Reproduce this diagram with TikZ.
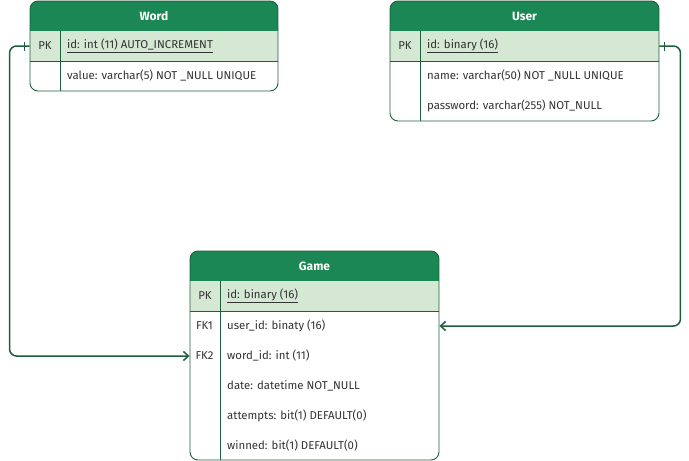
\documentclass[tikz,border=0pt]{standalone}
\usepackage{fontspec}
\setmainfont{Fira Sans}
\usetikzlibrary{arrows.meta,calc}
\definecolor{hdr}{HTML}{1A8754}
\definecolor{pkfill}{HTML}{D5E8D4}
\definecolor{edge}{HTML}{1E5E3C}
\definecolor{txt}{HTML}{333333}
\begin{document}
\begin{tikzpicture}[x=1pt,y=-1pt,
  tbl/.style={draw=edge, line width=0.9pt, rounded corners=8pt, inner sep=0pt},
  sep/.style={draw=edge, line width=0.9pt},
  hdrtext/.style={text=white, font=\bfseries\fontsize{12}{14}\selectfont},
  fld/.style={anchor=west, text=txt, inner sep=0pt, font=\fontsize{11.4}{13}\selectfont},
  keyt/.style={anchor=center, text=txt, inner sep=0pt, font=\fontsize{11.4}{13}\selectfont},
  conn/.style={draw=edge, line width=1.5pt, rounded corners=7pt},
  tick/.style={draw=edge, line width=1.5pt}]
\useasboundingbox (0,0) rectangle (689,461);

% ---------- Word ----------
\begin{scope}
\clip[rounded corners=8pt] (30,1) rectangle (278,91);
\fill[hdr] (30,1) rectangle (278,31);
\fill[pkfill] (30,31) rectangle (278,61);
\end{scope}
\draw[sep] (30,61) -- (278,61) (60,31) -- (60,91);
\node[tbl, minimum width=248pt, minimum height=90pt] (word) at (154,46) {};
\node[hdrtext] (wordt) at (154,16) {Word};
\node[keyt] (wpkk) at (45,46) {PK};
\node[fld] (wpk) at (67,46) {\underline{id: int (11) AUTO\_INCREMENT}};
\node[fld] (wval) at (67,76) {value: varchar(5) NOT \_NULL UNIQUE};

% ---------- User ----------
\begin{scope}
\clip[rounded corners=8pt] (390,1) rectangle (659,121);
\fill[hdr] (390,1) rectangle (659,31);
\fill[pkfill] (390,31) rectangle (659,61);
\end{scope}
\draw[sep] (390,61) -- (659,61) (420,31) -- (420,121);
\node[tbl, minimum width=269pt, minimum height=120pt] (user) at (524.5,61) {};
\node[hdrtext] (usert) at (524.5,16) {User};
\node[keyt] (upkk) at (405,46) {PK};
\node[fld] (upk) at (427,46) {\underline{id: binary (16)}};
\node[fld] (uname) at (427,76) {name: varchar(50) NOT \_NULL UNIQUE};
\node[fld] (upass) at (427,106) {password: varchar(255) NOT\_NULL};

% ---------- Game ----------
\begin{scope}
\clip[rounded corners=8pt] (190,251) rectangle (439,460);
\fill[hdr] (190,251) rectangle (439,281);
\fill[pkfill] (190,281) rectangle (439,311);
\end{scope}
\draw[sep] (190,311) -- (439,311) (220,281) -- (220,460);
\node[tbl, minimum width=249pt, minimum height=209pt] (game) at (314.5,355.5) {};
\node[hdrtext] (gamet) at (314.5,266) {Game};
\node[keyt] (gpkk) at (205,296) {PK};
\node[fld] (gpk) at (227,296) {\underline{id: binary (16)}};
\node[keyt] (gfk1k) at (204.5,326) {FK1};
\node[fld] (gfk1) at (227,326) {user\_id: binaty (16)};
\node[keyt] (gfk2k) at (204.5,356) {FK2};
\node[fld] (gfk2) at (227,356) {word\_id: int (11)};
\node[fld] (gdate) at (227,386) {date: datetime NOT\_NULL};
\node[fld] (gatt) at (227,416) {attempts: bit(1) DEFAULT(0)};
\node[fld] (gwin) at (227,446) {winned: bit(1) DEFAULT(0)};

% ---------- connectors ----------
\coordinate (wstart) at (word.west |- wpk);
\coordinate (gend) at (game.west |- gfk2);
\draw[conn, -{Straight Barb[length=5pt,width=9pt]}]
  (wstart) -- ++(-20,0) |- (gend);
\draw[tick] ($(wstart)+(-5,-4.5)$) -- ($(wstart)+(-5,4.5)$);

\coordinate (ustart) at (user.east |- upk);
\coordinate (uend) at (game.east |- gfk1);
\draw[conn, -{Straight Barb[length=5pt,width=9pt]}]
  (ustart) -- ++(21,0) |- (uend);
\draw[tick] ($(ustart)+(5,-4.5)$) -- ($(ustart)+(5,4.5)$);
\end{tikzpicture}
\end{document}
